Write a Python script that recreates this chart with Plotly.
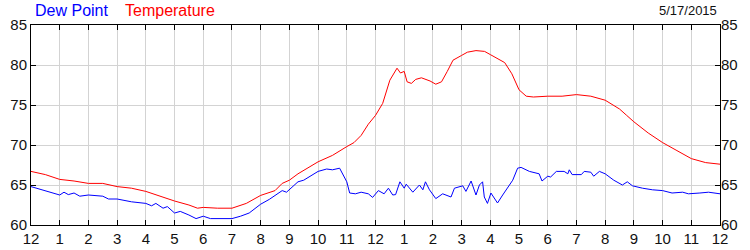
import plotly.graph_objects as go

# Hours since midnight
temp_hours = [0, 0.5, 1, 1.5, 2, 2.5, 3, 3.5, 4, 4.5, 5, 5.5, 5.8, 6, 6.5, 7, 7.5, 8, 8.5, 8.75,
              9, 9.3, 9.5, 10, 10.5, 10.75, 11, 11.25, 11.5, 11.75, 12, 12.25, 12.5, 12.75, 12.87,
              13.0, 13.1, 13.25, 13.4, 13.6, 13.9, 14.1, 14.3, 14.5, 14.7, 15.0, 15.2, 15.5, 15.8,
              16.0, 16.3, 16.5, 16.75, 17.0, 17.25, 17.5, 18, 18.5, 19, 19.5, 20, 20.25, 20.5,
              20.75, 21, 21.5, 22, 22.5, 23, 23.5, 24]
temperature = [66.7, 66.3, 65.7, 65.5, 65.2, 65.2, 64.8, 64.6, 64.2, 63.6, 63.0, 62.5, 62.1, 62.2,
               62.1, 62.1, 62.7, 63.7, 64.3, 65.2, 65.6, 66.4, 66.8, 67.9, 68.7, 69.3, 69.8, 70.3,
               71.2, 72.6, 73.7, 75.2, 78.1, 79.6, 79.0, 79.2, 77.9, 77.7, 78.2, 78.4, 78.0, 77.6,
               77.9, 79.2, 80.6, 81.2, 81.6, 81.8, 81.7, 81.3, 80.7, 80.3, 78.9, 76.9, 76.1, 76.0,
               76.1, 76.1, 76.3, 76.1, 75.6, 75.1, 74.5, 73.7, 72.9, 71.5, 70.3, 69.3, 68.3, 67.8,
               67.6]

dew_hours = [0, 0.5, 1, 1.15, 1.3, 1.5, 1.7, 2, 2.5, 2.7, 3, 3.5, 4, 4.2, 4.35, 4.6, 4.75, 5, 5.2,
             5.5, 5.75, 6, 6.25, 7, 7.3, 7.6, 8, 8.3, 8.75, 8.9, 9, 9.3, 9.5, 10, 10.3, 10.5, 10.75,
             11, 11.1, 11.3, 11.5, 11.75, 11.9, 12.1, 12.3, 12.45, 12.6, 12.7, 12.85, 13.0, 13.07,
             13.3, 13.53, 13.65, 13.74, 13.88, 14.1, 14.34, 14.63, 14.75, 15.04, 15.15, 15.33,
             15.5, 15.62, 15.73, 15.79, 15.9, 16.02, 16.25, 16.43, 16.6, 16.78, 16.95, 17.07,
             17.36, 17.7, 17.8, 18.0, 18.1, 18.3, 18.57, 18.7, 18.75, 18.85, 19.17, 19.27, 19.5,
             19.6, 19.8, 20.0, 20.3, 20.6, 20.77, 20.95, 21.3, 21.65, 22.0, 22.33, 22.7, 22.9,
             23.3, 23.6, 24.0]
dew_point = [64.8, 64.3, 63.75, 64.1, 63.8, 64.0, 63.6, 63.75, 63.6, 63.25, 63.25, 62.9, 62.7,
             62.4, 62.7, 62.1, 62.3, 61.5, 61.7, 61.25, 60.8, 61.1, 60.8, 60.8, 61.1, 61.5, 62.6,
             63.2, 64.3, 64.1, 64.4, 65.4, 65.6, 66.7, 67.0, 66.9, 67.1, 65.4, 64.0, 63.9, 64.1,
             63.9, 63.45, 64.3, 63.9, 64.6, 63.75, 63.8, 65.4, 64.6, 65.1, 64.1, 65.0, 64.4, 65.4,
             64.4, 63.3, 63.9, 63.5, 64.6, 64.9, 64.2, 65.5, 63.75, 65.0, 65.4, 63.5, 62.7, 64.0,
             62.75, 63.75, 64.6, 65.6, 67.1, 67.2, 66.7, 66.4, 65.5, 66.1, 66.0, 66.7, 66.7, 66.4,
             66.9, 66.3, 66.3, 66.7, 66.6, 66.1, 66.7, 66.4, 65.6, 65.0, 65.4, 64.9, 64.6, 64.4,
             64.3, 64.0, 64.1, 63.9, 64.0, 64.1, 63.9]

x_tickvals = list(range(0, 25))
x_ticktext = ["12", "1", "2", "3", "4", "5", "6", "7", "8", "9", "10", "11",
              "12", "1", "2", "3", "4", "5", "6", "7", "8", "9", "10", "11", "12"]
y_tickvals = [60, 65, 70, 75, 80, 85]
date_label = "5/17/2015"

FONT = "Liberation Sans, Arial, sans-serif"

fig = go.Figure()
fig.add_trace(go.Scatter(x=temp_hours, y=temperature, mode="lines", name="Temperature",
                         line=dict(color="#ff0000", width=1)))
fig.add_trace(go.Scatter(x=dew_hours, y=dew_point, mode="lines", name="Dew Point",
                         line=dict(color="#0000ff", width=1)))
# invisible trace so right axis is drawn
fig.add_trace(go.Scatter(x=[0], y=[60], yaxis="y2", mode="markers",
                         marker=dict(opacity=0), showlegend=False, hoverinfo="skip"))

axis_common = dict(showline=True, linecolor="black", linewidth=1, mirror="ticks",
                   ticks="inside", ticklen=5, tickcolor="black", tickwidth=1,
                   gridcolor="#d3d3d3", gridwidth=1, zeroline=False, automargin=False,
                   tickfont=dict(family=FONT, size=15, color="#111111"))

L, R, T, B = 31, 30, 25, 25
fig.update_layout(
    width=750, height=250,
    margin=dict(l=L, r=R, t=T, b=B, autoexpand=False),
    paper_bgcolor="white", plot_bgcolor="white",
    showlegend=False,
    xaxis=dict(range=[0, 24], tickmode="array", tickvals=x_tickvals, ticktext=x_ticktext,
               **axis_common),
    yaxis=dict(range=[60, 85], tickmode="array", tickvals=y_tickvals, **axis_common),
    yaxis2=dict(range=[60, 85], overlaying="y", side="right", tickmode="array",
                tickvals=y_tickvals, showgrid=False, ticks="", showline=False,
                zeroline=False, automargin=False,
                tickfont=dict(family=FONT, size=15, color="#111111")),
)

plot_w = 750 - L - R
plot_h = 250 - T - B
def px_x(px):
    return (px - L) / plot_w
def px_y(py):
    return (250 - B - py) / plot_h

fig.add_annotation(text="Dew Point", x=px_x(33), y=px_y(11), xref="paper", yref="paper",
                   xanchor="left", yanchor="middle", showarrow=False,
                   font=dict(family=FONT, size=16, color="#0000ff"))
fig.add_annotation(text="Temperature", x=px_x(123), y=px_y(11), xref="paper", yref="paper",
                   xanchor="left", yanchor="middle", showarrow=False,
                   font=dict(family=FONT, size=16, color="#ff0000"))
fig.add_annotation(text=date_label, x=px_x(719), y=px_y(11), xref="paper", yref="paper",
                   xanchor="right", yanchor="middle", showarrow=False,
                   font=dict(family=FONT, size=13, color="#111111"))

fig.write_html("out.html")
